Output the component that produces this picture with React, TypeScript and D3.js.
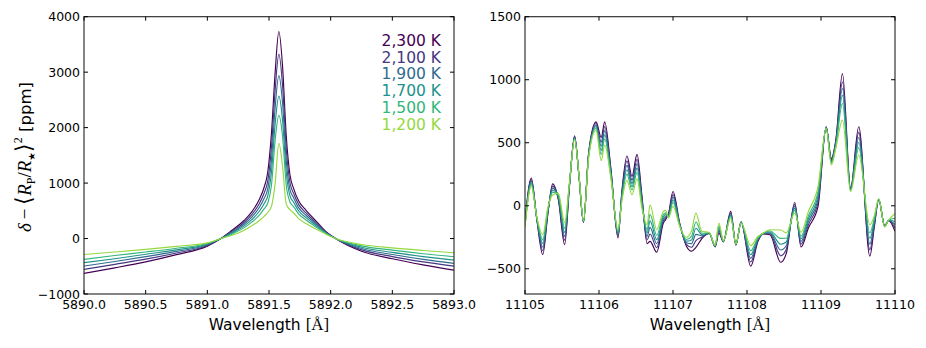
import React from 'react';
import * as d3 from 'd3';

// temperatures, hottest first (legend order)
const temperatures = ['2,300 K', '2,100 K', '1,900 K', '1,700 K', '1,500 K', '1,200 K'];
const colorStops = [0, 0.16, 0.34, 0.5, 0.66, 0.84];

// left panel: Na D line core
const leftWavelength = [5890.0, 5890.25, 5890.5, 5890.75, 5891.0, 5891.11, 5891.2, 5891.3, 5891.36, 5891.42,
  5891.46, 5891.49, 5891.52, 5891.55, 5891.58, 5891.61, 5891.64, 5891.67, 5891.7, 5891.74,
  5891.8, 5891.88, 5891.96, 5892.04, 5892.25, 5892.5, 5892.75, 5893.0];
const left2300 = [-628, -528, -420, -290, -137, 0, 150, 330, 480, 700, 920, 1200, 1900, 3000, 3734, 3100, 1850, 1150, 900, 680, 510, 320, 130, 0, -228, -365, -475, -569];
const left2100 = [-556, -465, -372, -260, -124, 0, 132, 294, 430, 624, 816, 1040, 1650, 2680, 3326, 2760, 1620, 1010, 812, 616, 462, 290, 120, 0, -204, -325, -420, -497];
const left1900 = [-497, -415, -326, -232, -112, 0, 116, 262, 385, 556, 722, 900, 1420, 2370, 2938, 2440, 1400, 880, 733, 558, 420, 262, 111, 0, -180, -288, -375, -449];
const left1700 = [-436, -365, -284, -205, -100, 0, 100, 229, 340, 487, 629, 770, 1200, 2070, 2567, 2130, 1190, 770, 654, 501, 376, 236, 102, 0, -156, -250, -325, -390];
const left1500 = [-377, -305, -243, -175, -89, 0, 83, 197, 295, 419, 535, 640, 960, 1780, 2220, 1840, 960, 660, 574, 443, 333, 208, 93, 0, -132, -210, -275, -329];
const left1200 = [-287, -243, -195, -140, -78, 0, 60, 150, 230, 320, 400, 470, 580, 1000, 1718, 1300, 620, 520, 460, 360, 270, 170, 80, 0, -108, -168, -215, -257];

// right panel: 11105-11110 A band
const rightWavelength = [11105.0, 11105.085, 11105.16, 11105.24, 11105.31, 11105.374, 11105.45, 11105.536, 11105.6, 11105.67,
  11105.73, 11105.79, 11105.86, 11105.96, 11106.03, 11106.077, 11106.16, 11106.257, 11106.31, 11106.378,
  11106.446, 11106.514, 11106.58, 11106.65, 11106.69, 11106.78, 11106.87, 11106.9, 11106.94, 11107.0,
  11107.09, 11107.18, 11107.25, 11107.31, 11107.39, 11107.49, 11107.57, 11107.62, 11107.68, 11107.78,
  11107.85, 11107.92, 11108.05, 11108.15, 11108.22, 11108.31, 11108.455, 11108.53, 11108.645, 11108.73,
  11108.83, 11108.96, 11109.07, 11109.14, 11109.2, 11109.29, 11109.4, 11109.51, 11109.66, 11109.72,
  11109.78, 11109.86, 11109.915, 11110.0];
const right2300 = [-130, 219, -110, -387, -60, 174, 50, -308, 150, 555, 230, -132, 420, 666, 542, 666, 300, -255, 120, 395,
  232, 408, 80, -300, -282, -369, -137, -110, -60, 113, -137, -320, -361, -330, -260, -220, -326, -216, -286, -45,
  -312, -128, -479, -280, -224, -230, -448, -380, 26, -327, -176, -5, 627, 376, 521, 1048, 140, 627, -400, -170,
  50, -160, -118, -203];
const right2100 = [-138, 206, -106, -355, -50, 156, 60, -273, 156, 549, 232, -130, 412, 653, 505, 629, 284, -242, 104, 356,
  203, 369, 60, -270, -224, -333, -119, -95, -67, 89, -142, -306, -329, -276, -249, -219, -324, -200, -285, -55,
  -310, -130, -446, -272, -222, -222, -397, -347, 9, -304, -150, 27, 624, 366, 508, 982, 135, 582, -350, -152,
  51, -161, -117, -175];
const right1900 = [-145, 195, -102, -327, -41, 140, 69, -242, 161, 544, 234, -127, 405, 641, 472, 596, 270, -230, 90, 321,
  177, 334, 42, -243, -172, -301, -102, -82, -74, 68, -147, -293, -300, -227, -238, -217, -322, -186, -283, -65,
  -308, -131, -417, -266, -220, -215, -351, -317, -6, -283, -126, 55, 622, 356, 496, 930, 130, 542, -305, -136,
  52, -162, -116, -150];
const right1700 = [-152, 183, -99, -298, -32, 124, 78, -211, 167, 538, 236, -125, 398, 629, 439, 563, 255, -219, 75, 286,
  151, 299, 24, -216, -120, -269, -85, -69, -81, 47, -152, -281, -271, -178, -228, -216, -320, -172, -281, -74,
  -306, -132, -388, -259, -219, -208, -305, -288, -21, -262, -103, 83, 620, 347, 485, 877, 125, 502, -260, -120,
  53, -163, -115, -125];
const right1500 = [-160, 172, -95, -270, -23, 108, 87, -179, 172, 533, 237, -123, 390, 617, 406, 530, 241, -207, 61, 251,
  125, 264, 6, -189, -67, -236, -69, -56, -87, 26, -156, -268, -242, -129, -218, -214, -318, -158, -280, -83,
  -305, -133, -358, -252, -218, -200, -259, -258, -36, -241, -79, 112, 617, 338, 473, 811, 120, 461, -215, -103,
  54, -165, -114, -99];
const right1200 = [-170, 155, -90, -229, -10, 85, 100, -134, 180, 525, 240, -120, 380, 600, 358, 482, 220, -190, 40, 200,
  87, 213, -20, -150, 8, -190, -45, -37, -97, -5, -163, -250, -200, -58, -203, -212, -315, -137, -278, -97,
  -302, -135, -316, -242, -216, -190, -192, -215, -58, -211, -45, 153, 614, 324, 456, 679, 113, 403, -150, -80,
  56, -168, -112, -63];

const leftTicksX = [5890.0, 5890.5, 5891.0, 5891.5, 5892.0, 5892.5, 5893.0];
const leftTicksY = [-1000, 0, 1000, 2000, 3000, 4000];
const rightTicksX = [11105, 11106, 11107, 11108, 11109, 11110];
const rightTicksY = [-500, 0, 500, 1000, 1500];

const TOP = 16.7;
const BOTTOM = 294;
const FONT = 'DejaVu Sans, sans-serif';
const colors = colorStops.map(t => d3.interpolateViridis(t));

const Panel = ({ id, x0, x1, xDomain, yDomain, xTicks, yTicks, xFmt, wavelength, series, children }) => {
  const x = d3.scaleLinear().domain(xDomain).range([x0, x1]);
  const y = d3.scaleLinear().domain(yDomain).range([BOTTOM, TOP]);
  const line = d3.line().x((d, i) => x(wavelength[i])).y(d => y(d)).curve(d3.curveMonotoneX);
  const yFmt = d3.format('d');
  const tl = 4;
  return (
    <g>
      <defs>
        <clipPath id={id}>
          <rect x={x0} y={TOP} width={x1 - x0} height={BOTTOM - TOP} />
        </clipPath>
      </defs>
      <g clipPath={`url(#${id})`}>
        {/* cooler (lighter) curves drawn last so they sit on top */}
        {series.map((s, i) => (
          <path key={i} d={line(s)} fill="none" stroke={colors[i]} strokeWidth={1.15} />
        ))}
      </g>
      <rect x={x0} y={TOP} width={x1 - x0} height={BOTTOM - TOP} fill="none" stroke="#222" strokeWidth={1.1} />
      {xTicks.map(t => (
        <g key={'x' + t}>
          <line x1={x(t)} x2={x(t)} y1={BOTTOM} y2={BOTTOM - tl} stroke="#000" />
          <line x1={x(t)} x2={x(t)} y1={TOP} y2={TOP + tl} stroke="#000" />
          <text x={x(t)} y={BOTTOM + 15} textAnchor="middle" fontSize={12.5} fontFamily={FONT}>{xFmt(t)}</text>
        </g>
      ))}
      {yTicks.map(t => (
        <g key={'y' + t}>
          <line x1={x0} x2={x0 + tl} y1={y(t)} y2={y(t)} stroke="#000" />
          <line x1={x1} x2={x1 - tl} y1={y(t)} y2={y(t)} stroke="#000" />
          <text x={x0 - 4} y={y(t)} dy="0.36em" textAnchor="end" fontSize={12.5} fontFamily={FONT}>{yFmt(t)}</text>
        </g>
      ))}
      <text x={(x0 + x1) / 2} y={330} textAnchor="middle" fontSize={15.5} fontFamily={FONT}>
        Wavelength <tspan fontFamily="Liberation Serif, serif" fontSize={17}>[Å]</tspan>
      </text>
      {children}
    </g>
  );
};

export default function App() {
  const leftSeries = [left2300, left2100, left1900, left1700, left1500, left1200];
  const rightSeries = [right2300, right2100, right1900, right1700, right1500, right1200];
  const serif = 'Liberation Serif, serif';
  return (
    <svg width={926} height={348} style={{ position: 'absolute', left: 0, top: 0, background: '#fff' }}>
      <Panel id="clipL" x0={84} x1={454} xDomain={[5890, 5893]} yDomain={[-1000, 4000]}
        xTicks={leftTicksX} yTicks={leftTicksY} xFmt={d3.format('.1f')}
        wavelength={leftWavelength} series={leftSeries}>
        {temperatures.map((t, i) => (
          <text key={t} x={441} y={46 + i * 16.7} textAnchor="end" fontSize={15.5} fontFamily={FONT} fill={colors[i]}>{t}</text>
        ))}
      </Panel>
      <Panel id="clipR" x0={525} x1={895} xDomain={[11105, 11110]} yDomain={[-700, 1500]}
        xTicks={rightTicksX} yTicks={rightTicksY} xFmt={d3.format('d')}
        wavelength={rightWavelength} series={rightSeries} />
      <text transform="translate(31,157) rotate(-90)" textAnchor="middle" fontSize={16.5} fontFamily={FONT}>
        <tspan fontFamily={serif} fontStyle="italic" fontSize={19}>δ</tspan>
        <tspan fontFamily={serif} fontSize={19}>{'\u2009−\u2009'}</tspan>
        <tspan fontFamily={serif} fontSize={22}>⟨</tspan>
        <tspan fontFamily={serif} fontStyle="italic" fontSize={19}>R</tspan>
        <tspan fontFamily={serif} fontSize={12} dy={3.5}>P</tspan>
        <tspan fontFamily={serif} fontSize={19} dy={-3.5}>/</tspan>
        <tspan fontFamily={serif} fontStyle="italic" fontSize={19}>R</tspan>
        <tspan fontFamily={FONT} fontSize={9.5} dy={3.5}>★</tspan>
        <tspan fontFamily={serif} fontSize={22} dy={-3.5}>⟩</tspan>
        <tspan fontFamily={serif} fontSize={12} dy={-9}>2</tspan>
        <tspan dy={9}> [ppm]</tspan>
      </text>
    </svg>
  );
}
